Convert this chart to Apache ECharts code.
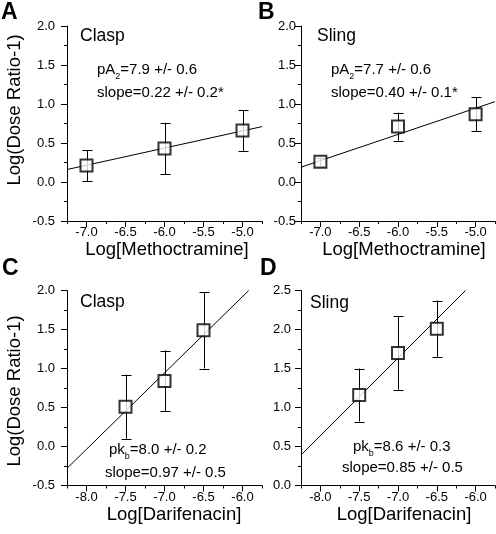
<!DOCTYPE html>
<html>
<head>
<meta charset="utf-8">
<script src="https://cdn.jsdelivr.net/npm/echarts@6/dist/echarts.min.js"></script>
<style>html,body{margin:0;padding:0;background:#fff;}#c{width:496px;height:534px;}</style>
</head>
<body>
<div id="c"></div>
<script>
// ---- data ----
const xA = [-7, -6, -5];
const yA = [0.21, 0.43, 0.66];
const eA = [0.20, 0.33, 0.26];
const fitA = [[-7.25, 0.16], [-4.75, 0.71]];

const xB = [-7, -6, -5];
const yB = [0.26, 0.71, 0.87];
const eB = [0.05, 0.18, 0.22];
const fitB = [[-7.25, 0.19], [-4.75, 1.03]];

const xC = [-7.5, -7, -6.5];
const yC = [0.51, 0.84, 1.49];
const eC = [0.41, 0.39, 0.49];
const fitC = [[-8.25, -0.28], [-5.92, 2.0]];

const xD = [-7.5, -7, -6.5];
const yD = [1.16, 1.70, 2.01];
const eD = [0.34, 0.47, 0.36];
const fitD = [[-8.25, 0.39], [-6.13, 2.5]];

const xTicksMeth = [-7.0, -6.5, -6.0, -5.5, -5.0];
const xMinorMeth = [-7.25, -6.75, -6.25, -5.75, -5.25, -4.75];
const xTicksDari = [-8.0, -7.5, -7.0, -6.5, -6.0];
const xMinorDari = [-8.25, -7.75, -7.25, -6.75, -6.25, -5.75];

const FONT = 'Liberation Sans, Arial, Helvetica, sans-serif';

const grids = [
  {left: 67, top: 26, width: 195, height: 195},
  {left: 301, top: 26, width: 194, height: 195},
  {left: 67, top: 290.5, width: 195, height: 195},
  {left: 301, top: 290.5, width: 194, height: 195}
].map(g => Object.assign({outerBoundsMode: 'none', containLabel: false}, g));

const xRanges = [[-7.25, -4.75], [-7.25, -4.75], [-8.25, -5.75], [-8.25, -5.75]];
const xMajor = [xTicksMeth, xTicksMeth, xTicksDari, xTicksDari];
const xMinor = [xMinorMeth, xMinorMeth, xMinorDari, xMinorDari];
const yRanges = [[-0.5, 2.0], [-0.5, 2.0], [-0.5, 2.0], [0, 2.5]];
const yMargins = [12, 5, 12, 10];

const black = '#000';
const xAxes = [];
const yAxes = [];
for (let i = 0; i < 4; i++) {
  xAxes.push({
    gridIndex: i, type: 'value', min: xRanges[i][0], max: xRanges[i][1],
    axisLine: {show: true, onZero: false, lineStyle: {color: black, width: 1}},
    axisTick: {show: true, customValues: xMajor[i], length: 6, lineStyle: {color: black, width: 1}},
    axisLabel: {show: true, customValues: xMajor[i], formatter: v => Number(v).toFixed(1),
      color: black, fontSize: 13, fontFamily: FONT, margin: 5},
    splitLine: {show: false}
  });
  xAxes.push({
    gridIndex: i, type: 'value', min: xRanges[i][0], max: xRanges[i][1], position: 'bottom',
    axisLine: {show: false, onZero: false},
    axisTick: {show: true, customValues: xMinor[i], length: 3, lineStyle: {color: black, width: 1}},
    axisLabel: {show: false},
    splitLine: {show: false}
  });
  yAxes.push({
    gridIndex: i, type: 'value', min: yRanges[i][0], max: yRanges[i][1], interval: 0.5,
    axisLine: {show: true, onZero: false, lineStyle: {color: black, width: 1}},
    axisTick: {show: true, length: 6, lineStyle: {color: black, width: 1}},
    minorTick: {show: true, splitNumber: 2, length: 3, lineStyle: {color: black, width: 1}},
    axisLabel: {formatter: v => Number(v).toFixed(1), color: black, fontSize: 13, fontFamily: FONT, margin: yMargins[i]},
    splitLine: {show: false}
  });
}

const panels = [[xA, yA, eA, fitA], [xB, yB, eB, fitB], [xC, yC, eC, fitC], [xD, yD, eD, fitD]];
const series = [];
panels.forEach((p, i) => {
  const [xs, ys, es, fit] = p;
  series.push({
    type: 'line', xAxisIndex: i * 2, yAxisIndex: i, data: fit, showSymbol: false, symbol: 'none',
    lineStyle: {color: black, width: 1}, silent: true, z: 2, clip: true
  });
  series.push({
    type: 'custom', xAxisIndex: i * 2, yAxisIndex: i, z: 3, silent: true,
    data: xs.map((x, k) => [x, ys[k] - es[k], ys[k] + es[k]]),
    encode: {x: 0, y: [1, 2]},
    renderItem: function (params, api) {
      const x = api.value(0);
      const lo = api.coord([x, api.value(1)]);
      const hi = api.coord([x, api.value(2)]);
      const cx = Math.round(lo[0]) + 0.5;
      const w = 5;
      const st = {stroke: black, lineWidth: 1};
      return {type: 'group', children: [
        {type: 'line', shape: {x1: cx, y1: lo[1], x2: cx, y2: hi[1]}, style: st},
        {type: 'line', shape: {x1: cx - w, y1: Math.round(lo[1]) + 0.5, x2: cx + w, y2: Math.round(lo[1]) + 0.5}, style: st},
        {type: 'line', shape: {x1: cx - w, y1: Math.round(hi[1]) + 0.5, x2: cx + w, y2: Math.round(hi[1]) + 0.5}, style: st}
      ]};
    }
  });
  series.push({
    type: 'scatter', xAxisIndex: i * 2, yAxisIndex: i, z: 4,
    data: xs.map((x, k) => [x, ys[k]]),
    symbol: 'rect', symbolSize: 12,
    itemStyle: {color: '#fff', borderColor: black, borderWidth: 2}
  });
});

function txt(x, y, text, size, opts) {
  opts = opts || {};
  const style = {
    text: text, fill: black, fontFamily: FONT, fontSize: size, fontWeight: opts.bold ? 'bold' : 'normal',
    align: opts.align || 'left', verticalAlign: 'middle',
    textAlign: opts.align || 'left', textVerticalAlign: 'middle'
  };
  if (opts.rich) style.rich = opts.rich;
  return {type: 'text', x: x, y: y, rotation: opts.rotation || 0, style: style, z: 10};
}
const subRich = {
  a: {fontSize: 15, fontFamily: FONT, fill: black, lineHeight: 17, verticalAlign: 'middle'},
  s: {fontSize: 9, fontFamily: FONT, fill: black, lineHeight: 9, verticalAlign: 'bottom', padding: [0, 0, -3, 0]}
};

const graphics = [
  txt(1, 13, 'A', 23, {bold: true}),
  txt(258, 13, 'B', 23, {bold: true}),
  txt(2, 269, 'C', 23, {bold: true}),
  txt(260, 269, 'D', 23, {bold: true}),

  txt(80, 36, 'Clasp', 17.5),
  txt(97, 70, '{a|pA}{s|2}{a|=7.9 +/- 0.6}', 15, {rich: subRich}),
  txt(97, 93, 'slope=0.22 +/- 0.2*', 15),

  txt(317, 36, 'Sling', 17.5),
  txt(331, 70, '{a|pA}{s|2}{a|=7.7 +/- 0.6}', 15, {rich: subRich}),
  txt(331, 93, 'slope=0.40 +/- 0.1*', 15),

  txt(80, 302, 'Clasp', 17.5),
  txt(109, 450, '{a|pk}{s|b}{a|=8.0 +/- 0.2}', 15, {rich: subRich}),
  txt(105, 473, 'slope=0.97 +/- 0.5', 15),

  txt(310, 303, 'Sling', 17.5),
  txt(353, 447, '{a|pk}{s|b}{a|=8.6 +/- 0.3}', 15, {rich: subRich}),
  txt(342, 468, 'slope=0.85 +/- 0.5', 15),

  txt(167, 250, 'Log[Methoctramine]', 18.5, {align: 'center'}),
  txt(404, 250, 'Log[Methoctramine]', 18.5, {align: 'center'}),
  txt(174, 515, 'Log[Darifenacin]', 18.5, {align: 'center'}),
  txt(404, 515, 'Log[Darifenacin]', 18.5, {align: 'center'}),

  txt(15, 110, 'Log(Dose Ratio-1)', 18.5, {align: 'center', rotation: Math.PI / 2}),
  txt(15, 391, 'Log(Dose Ratio-1)', 18.5, {align: 'center', rotation: Math.PI / 2})
];

const chart = echarts.init(document.getElementById('c'), null, {renderer: 'canvas', width: 496, height: 534});
chart.setOption({
  animation: false,
  backgroundColor: '#fff',
  grid: grids,
  xAxis: xAxes,
  yAxis: yAxes,
  series: series,
  graphic: graphics
});
</script>
</body>
</html>
